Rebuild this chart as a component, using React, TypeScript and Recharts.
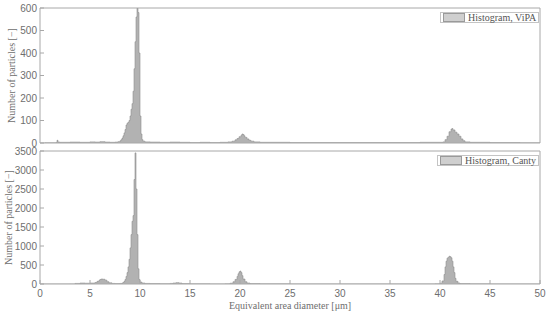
import React from 'react';
import { ComposedChart, Area, XAxis, YAxis, Legend } from 'recharts';

// Bin left edges (µm) and counts — ViPA histogram
const vipaEdges = [0, 0.5, 1.6, 1.7, 1.8, 2.0, 3.0, 4.0, 5.0, 5.5, 6.0, 6.5, 7.0, 7.5, 7.8,
  8.0, 8.1, 8.2, 8.3, 8.4, 8.5, 8.6, 8.7, 8.8, 8.9, 9.0, 9.1, 9.2, 9.3, 9.4, 9.5, 9.6, 9.7, 9.8, 9.9,
  10.0, 10.1, 10.2, 10.3, 10.5, 11, 12, 13, 14, 15, 16, 17, 18,
  18.8, 19.2, 19.5, 19.7, 19.9, 20.1, 20.2, 20.3, 20.4, 20.5, 20.7, 20.9, 21.1, 21.4, 22, 25, 30, 35, 38,
  40.3, 40.5, 40.7, 40.9, 41.1, 41.2, 41.3, 41.5, 41.7, 41.9, 42.1, 42.3, 42.5, 43, 45, 48, 50];
const vipaCounts = [0, 1, 2, 12, 4, 3, 4, 3, 5, 4, 6, 4, 3, 4, 6,
  10, 15, 22, 32, 45, 60, 80, 88, 92, 100, 120, 150, 175, 230, 330, 450, 560, 600, 580, 400,
  120, 40, 15, 8, 5, 4, 3, 4, 3, 2, 3, 2, 3,
  5, 8, 14, 20, 28, 35, 40, 38, 32, 25, 18, 12, 8, 5, 3, 2, 2, 2, 3,
  5, 15, 30, 50, 62, 64, 58, 48, 40, 30, 18, 10, 5, 3, 2, 1, 0];

// Canty histogram
const cantyEdges = [0, 3.0, 3.5, 4.0, 4.5, 5.0, 5.5, 5.7, 5.9, 6.0, 6.1, 6.3, 6.5, 6.7, 6.9, 7.2, 7.5,
  8.0, 8.2, 8.3, 8.4, 8.5, 8.6, 8.7, 8.8, 8.9, 9.0, 9.1, 9.2, 9.3, 9.4, 9.5, 9.6, 9.7, 9.8, 9.9,
  10.0, 10.2, 10.5, 11, 12, 13, 13.3, 13.6, 13.9, 14.2, 15, 17,
  18.5, 19.0, 19.3, 19.5, 19.7, 19.8, 19.9, 20.0, 20.1, 20.2, 20.3, 20.5, 20.7, 21, 22, 25, 39.5,
  40.0, 40.2, 40.4, 40.5, 40.6, 40.7, 40.8, 40.9, 41.0, 41.1, 41.2, 41.3, 41.4, 41.5, 41.6, 41.8, 42, 43, 45, 50];
const cantyCounts = [0, 2, 15, 25, 20, 25, 40, 70, 100, 120, 130, 125, 100, 60, 30, 15, 10,
  15, 25, 40, 70, 120, 200, 300, 450, 650, 950, 1300, 1650, 1800, 2750, 3450, 2500, 1300, 400, 120,
  50, 25, 15, 10, 8, 15, 25, 35, 25, 10, 5, 3,
  5, 20, 60, 120, 200, 270, 320, 340, 300, 220, 130, 60, 25, 10, 5, 3, 5,
  20, 80, 250, 450, 600, 680, 700, 730, 720, 690, 600, 450, 300, 150, 70, 25, 10, 4, 3, 0];

const xTicks = [0, 5, 10, 15, 20, 25, 30, 35, 40, 45, 50];
const vipaTicks = [0, 100, 200, 300, 400, 500, 600];
const cantyTicks = [0, 500, 1000, 1500, 2000, 2500, 3000, 3500];

const vipaData = vipaEdges.map((x, i) => ({ x, y: vipaCounts[i] }));
const cantyData = cantyEdges.map((x, i) => ({ x, y: cantyCounts[i] }));

const AX = '#a8a8a8';
const TXT = '#6e6e6e';
const SANS = '"Liberation Sans", Arial, sans-serif';
const SERIF = '"Liberation Serif", "Times New Roman", serif';
const tickStyle = { fill: TXT, fontSize: 10, fontFamily: SANS };

const LegendBox = ({ name }: { name: string }) => (
  <div style={{
    display: 'flex', alignItems: 'center', border: '1px solid #c4c4c4', background: '#fff',
    height: 11, padding: '0 2px 0 2px', boxSizing: 'border-box',
  }}>
    <div style={{ width: 20, height: 7, background: '#cfcfcf', border: '0.5px solid #9a9a9a', marginRight: 3 }} />
    <span style={{ fontFamily: SERIF, fontSize: 10, color: '#555', lineHeight: '11px', whiteSpace: 'nowrap' }}>{name}</span>
  </div>
);

function Panel({ data, yDomain, yTicks, height, top, name, showX, labelDx, legendLeft }: any) {
  return (
    <div style={{ position: 'absolute', left: 0, top, width: 550, height }}>
      <ComposedChart width={550} height={height} data={data} margin={{ top: 7, right: 9, bottom: 0, left: 0 }}>
        <XAxis xAxisId="b" dataKey="x" type="number" domain={[0, 50]} ticks={xTicks} interval={0}
          height={showX ? 31 : 7} tick={showX ? tickStyle : false} tickSize={-4} tickMargin={10}
          stroke={AX} allowDataOverflow
          label={showX ? { value: 'Equivalent area diameter [μm]', position: 'insideBottom', offset: 6, fill: TXT, fontSize: 10, fontFamily: SERIF } : undefined} />
        <XAxis xAxisId="t" orientation="top" dataKey="x" type="number" domain={[0, 50]} ticks={xTicks} interval={0}
          height={1} tick={false} tickSize={-4} stroke={AX} allowDataOverflow />
        <YAxis yAxisId="l" type="number" domain={yDomain} ticks={yTicks} interval={0} width={40}
          tickSize={-4} tickMargin={7} tick={tickStyle} stroke={AX} allowDataOverflow
          label={{ value: 'Number of particles [−]', angle: -90, position: 'center', dx: labelDx, fill: TXT, fontSize: 10, fontFamily: SERIF }} />
        <YAxis yAxisId="r" orientation="right" type="number" domain={yDomain} ticks={yTicks} interval={0} width={1}
          tick={false} tickSize={-4} stroke={AX} allowDataOverflow />
        <Area xAxisId="b" yAxisId="l" type="stepAfter" dataKey="y" name={name}
          fill="#b2b2b2" fillOpacity={1} stroke="#8e8e8e" strokeWidth={0.6} isAnimationActive={false} dot={false} activeDot={false} />
        <Legend layout="horizontal" verticalAlign="middle" align="center"
          wrapperStyle={{ top: 12, left: legendLeft, width: 'auto' }}
          content={() => <LegendBox name={name} />} />
      </ComposedChart>
    </div>
  );
}

export default function App() {
  return (
    <div style={{ position: 'absolute', left: 0, top: 0, width: 550, height: 315, background: '#fff' }}>
      <Panel data={vipaData} yDomain={[0, 600]} yTicks={vipaTicks} height={150} top={0}
        name="Histogram, ViPA" showX={false} labelDx={-8.5} legendLeft={440} />
      <Panel data={cantyData} yDomain={[0, 3500]} yTicks={cantyTicks} height={172} top={143}
        name="Histogram, Canty" showX={true} labelDx={-12} legendLeft={437} />
    </div>
  );
}
